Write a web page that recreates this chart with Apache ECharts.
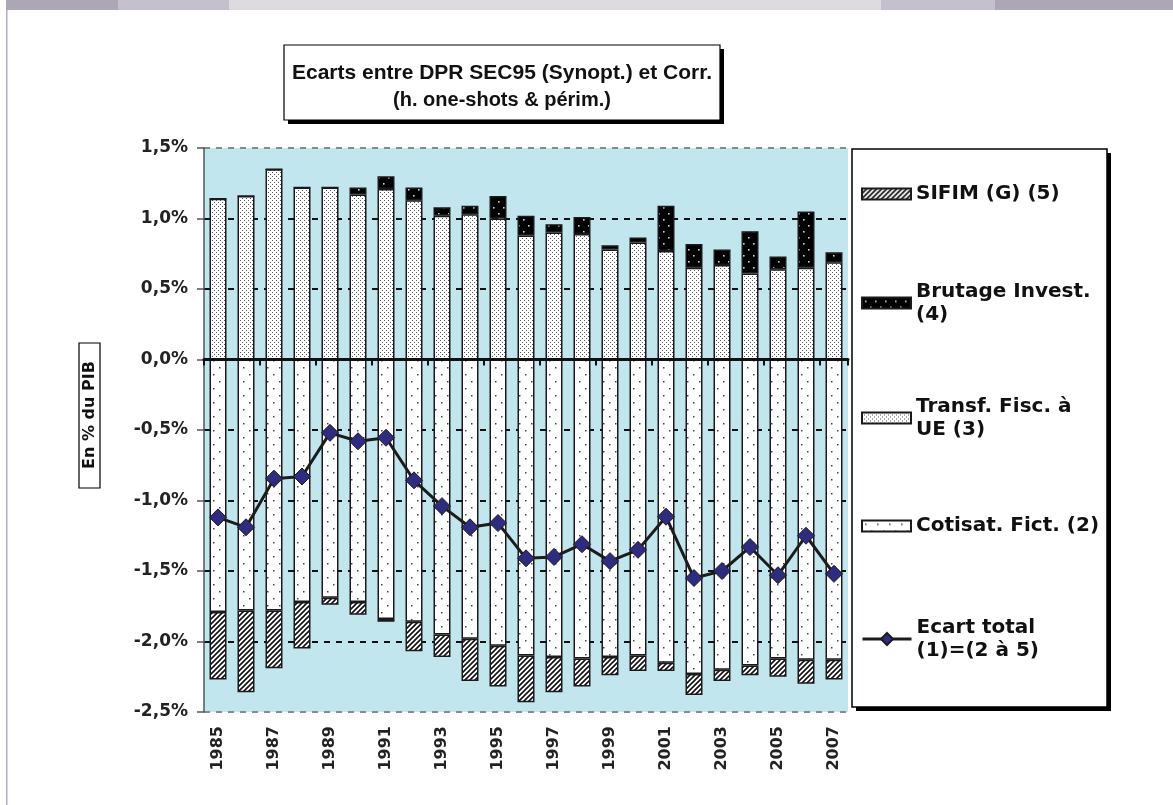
<!DOCTYPE html>
<html>
<head>
<meta charset="utf-8">
<script src="https://cdn.jsdelivr.net/npm/echarts@6/dist/echarts.min.js"></script>
<style>
html,body{margin:0;padding:0;background:#fff;}
#chart{width:1173px;height:805px;}
</style>
</head>
<body>
<div id="chart"></div>
<script>
// ---- DATA ----
const years = ['1985','1986','1987','1988','1989','1990','1991','1992','1993','1994','1995','1996','1997','1998','1999','2000','2001','2002','2003','2004','2005','2006','2007'];
const transfFisc = [1.14,1.16,1.35,1.22,1.22,1.17,1.21,1.13,1.02,1.03,1.00,0.88,0.90,0.89,0.78,0.83,0.77,0.65,0.67,0.61,0.64,0.65,0.69];
const brutageInvest = [0,0,0,0,0,0.05,0.09,0.09,0.06,0.06,0.16,0.14,0.06,0.12,0.03,0.035,0.32,0.17,0.11,0.30,0.09,0.40,0.07];
const cotisatFict = [-1.79,-1.78,-1.78,-1.72,-1.69,-1.72,-1.84,-1.86,-1.95,-1.98,-2.03,-2.10,-2.11,-2.12,-2.11,-2.10,-2.15,-2.23,-2.20,-2.17,-2.12,-2.13,-2.13];
const sifim = [-0.48,-0.58,-0.41,-0.33,-0.05,-0.09,-0.02,-0.21,-0.16,-0.30,-0.29,-0.33,-0.25,-0.20,-0.13,-0.11,-0.06,-0.15,-0.08,-0.07,-0.13,-0.17,-0.14];
const ecartTotal = [-1.12,-1.19,-0.845,-0.83,-0.52,-0.58,-0.555,-0.857,-1.04,-1.19,-1.16,-1.41,-1.40,-1.31,-1.43,-1.35,-1.115,-1.55,-1.50,-1.33,-1.53,-1.25,-1.52];
const titleLine1 = 'Ecarts entre DPR SEC95 (Synopt.) et Corr.';
const titleLine2 = '(h. one-shots & périm.)';
const yTitle = 'En % du PIB';
const names = {
  sifim: 'SIFIM (G) (5)',
  brut: 'Brutage Invest.\n(4)',
  transf: 'Transf. Fisc. à\nUE (3)',
  cotis: 'Cotisat. Fict. (2)',
  ecart: 'Ecart total\n(1)=(2 à 5)'
};

// ---- PATTERNS ----
function pat(w, h, bg, draw) {
  const c = document.createElement('canvas');
  c.width = w; c.height = h;
  const ctx = c.getContext('2d');
  ctx.fillStyle = bg; ctx.fillRect(0, 0, w, h);
  draw(ctx);
  return { image: c, repeat: 'repeat' };
}
const transfPat = pat(4, 4, '#ffffff', ctx => { ctx.fillStyle = '#555'; ctx.fillRect(0,0,1,1); ctx.fillRect(2,2,1,1); });
const cotisPat = pat(12, 14, '#ffffff', ctx => { ctx.fillStyle = '#444'; ctx.fillRect(3,3,1.5,1.5); ctx.fillRect(9,10,1.5,1.5); });
const brutPat = pat(10, 12, '#000000', ctx => { ctx.fillStyle = '#cfcfcf'; ctx.fillRect(3,3,1.6,1.6); ctx.fillRect(8,9,1.6,1.6); });
const sifimPat = pat(5, 5, '#ffffff', ctx => {
  ctx.strokeStyle = '#111'; ctx.lineWidth = 1.6;
  ctx.beginPath();
  ctx.moveTo(-1,6); ctx.lineTo(6,-1);
  ctx.moveTo(-3.5,3.5); ctx.lineTo(3.5,-3.5);
  ctx.moveTo(1.5,8.5); ctx.lineTo(8.5,1.5);
  ctx.stroke();
});

const FONT = 'DejaVu Sans';
const chart = echarts.init(document.getElementById('chart'), null, { renderer: 'canvas' });

const barBorder = { borderColor: '#1a1a1a', borderWidth: 1.5 };
function legendAt(name, top, twoLines, isLine) {
  const l = {
    data: [name], left: 861, top: top, orient: 'vertical', padding: 0,
    itemWidth: 49, itemHeight: isLine ? 15 : 11, itemGap: 5, selectedMode: false,
    textStyle: { fontFamily: FONT, fontWeight: 'bold', fontSize: 20, color: '#111', lineHeight: 23,
      padding: twoLines ? [22, 0, 0, 0] : 0 }
  };
  if (isLine) {
    l.lineStyle = { width: 3, color: '#1c1c1c' };
  } else {
    l.icon = 'rect';
  }
  return l;
}

const option = {
  animation: false,
  backgroundColor: '#ffffff',
  graphic: [
    // page frame strip
    { type: 'rect', shape: { x: 6, y: 0, width: 112, height: 10 }, style: { fill: '#aca6b7' }, silent: true },
    { type: 'rect', shape: { x: 118, y: 0, width: 111, height: 10 }, style: { fill: '#c4c0cd' }, silent: true },
    { type: 'rect', shape: { x: 229, y: 0, width: 652, height: 10 }, style: { fill: '#dddae0' }, silent: true },
    { type: 'rect', shape: { x: 881, y: 0, width: 114, height: 10 }, style: { fill: '#c4c0cd' }, silent: true },
    { type: 'rect', shape: { x: 995, y: 0, width: 178, height: 10 }, style: { fill: '#aca6b7' }, silent: true },
    { type: 'rect', shape: { x: 6, y: 10, width: 1.5, height: 795 }, style: { fill: '#b4b0bd' }, silent: true },
    // title box
    { type: 'rect', shape: { x: 288, y: 49, width: 436, height: 75 }, style: { fill: '#000' }, silent: true },
    { type: 'rect', shape: { x: 284, y: 45, width: 436, height: 75 }, style: { fill: '#fff', stroke: '#000', lineWidth: 1.2 }, silent: true },
    { type: 'text', x: 502, y: 73, style: { text: titleLine1, align: 'center', verticalAlign: 'middle',
      font: 'bold 21px "Liberation Sans Narrow", "Liberation Sans", sans-serif', fill: '#111' }, silent: true, z: 10 },
    { type: 'text', x: 502, y: 100, style: { text: titleLine2, align: 'center', verticalAlign: 'middle',
      font: 'bold 20px "Liberation Sans Narrow", "Liberation Sans", sans-serif', fill: '#111' }, silent: true, z: 10 },
    // y axis title box
    { type: 'rect', shape: { x: 79, y: 343, width: 21, height: 145 }, style: { fill: '#fff', stroke: '#000', lineWidth: 1.2 }, silent: true },
    { type: 'text', rotation: Math.PI / 2, x: 89.5, y: 415, style: { text: yTitle, align: 'center', verticalAlign: 'middle',
      font: 'bold 16px "DejaVu Sans", sans-serif', fill: '#111' }, silent: true, z: 10 },
    // legend box
    { type: 'rect', shape: { x: 856, y: 153, width: 255, height: 558 }, style: { fill: '#000' }, silent: true },
    { type: 'rect', shape: { x: 852, y: 149, width: 255, height: 558 }, style: { fill: '#fff', stroke: '#000', lineWidth: 1.5 }, silent: true }
  ],
  legend: [
    legendAt(names.sifim, 182.5, false, false),
    legendAt(names.brut, 269, true, false),
    legendAt(names.transf, 384, true, false),
    legendAt(names.cotis, 514.5, false, false),
    legendAt(names.ecart, 605, true, true)
  ],
  grid: { left: 204, right: 325, top: 148, bottom: 93, show: true, backgroundColor: '#c2e6ee', borderWidth: 0 },
  xAxis: [
    {
      type: 'category', data: years, z: 5,
      axisLine: { onZero: true, lineStyle: { color: '#111', width: 3 } },
      axisTick: { show: true, length: 6, lineStyle: { color: '#111', width: 2 } },
      axisLabel: { show: false },
      splitLine: { show: false }
    },
    {
      type: 'category', data: years, position: 'bottom',
      axisLine: { show: false, onZero: false },
      axisTick: { show: false },
      axisLabel: { show: true, interval: 1, rotate: 90, margin: 14, fontFamily: FONT, fontWeight: 'bold', fontSize: 16, color: '#222' }
    }
  ],
  yAxis: {
    type: 'value', min: -2.5, max: 1.5, interval: 0.5,
    axisLine: { show: true, lineStyle: { color: '#555', width: 1.5 } },
    axisTick: { show: true, length: 7, lineStyle: { color: '#555', width: 1.5 } },
    axisLabel: { margin: 16, fontFamily: FONT, fontWeight: 'bold', fontSize: 17, color: '#222',
      formatter: v => v.toFixed(1).replace('.', ',') + '%' },
    splitLine: { show: true, lineStyle: { type: [6, 6], width: 2,
      color: ['#8a8a8a', '#111', '#111', '#111', '#111', '#111', '#111', '#111', '#8a8a8a'] } }
  },
  series: [
    { name: names.cotis, type: 'bar', stack: 'a', data: cotisatFict, barWidth: 17,
      itemStyle: Object.assign({ color: cotisPat }, barBorder) },
    { name: names.sifim, type: 'bar', stack: 'a', data: sifim, barWidth: 17,
      itemStyle: Object.assign({ color: sifimPat }, barBorder) },
    { name: names.transf, type: 'bar', stack: 'a', data: transfFisc, barWidth: 17,
      itemStyle: Object.assign({ color: transfPat }, barBorder) },
    { name: names.brut, type: 'bar', stack: 'a', data: brutageInvest, barWidth: 17,
      itemStyle: Object.assign({ color: brutPat }, barBorder) },
    { name: names.ecart, type: 'line', data: ecartTotal, z: 10,
      lineStyle: { color: '#1c1c1c', width: 3 },
      symbol: 'diamond', symbolSize: 17,
      itemStyle: { color: '#2e2c80', borderColor: '#1c1c1c', borderWidth: 1 } }
  ]
};
chart.setOption(option);
</script>
</body>
</html>
